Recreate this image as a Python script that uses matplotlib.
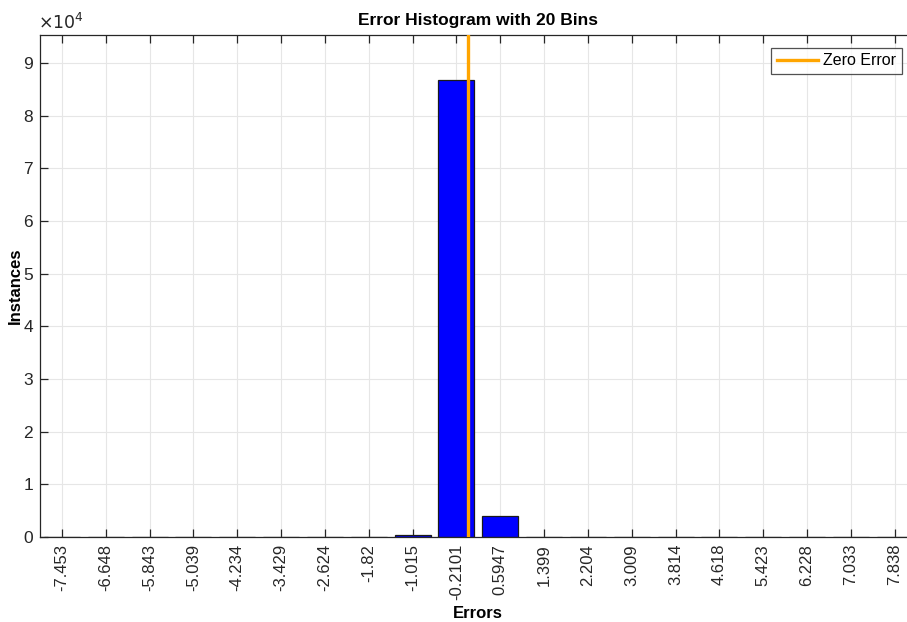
import numpy as np
import matplotlib
matplotlib.use('Agg')
import matplotlib.pyplot as plt
from matplotlib.ticker import FuncFormatter

plt.rcParams['font.family'] = ['Liberation Sans', 'DejaVu Sans']

# bin centres as printed on the x axis
bin_labels = ['-7.453', '-6.648', '-5.843', '-5.039', '-4.234', '-3.429', '-2.624',
              '-1.82', '-1.015', '-0.2101', '0.5947', '1.399', '2.204', '3.009',
              '3.814', '4.618', '5.423', '6.228', '7.033', '7.838']
bin_centers = [float(s) for s in bin_labels]
# instances per bin
counts = [0, 0, 0, 0, 0, 0, 0, 0, 440, 86700, 4040, 0, 0, 0, 0, 0, 0, 0, 0, 0]
zero_error = 0.0

bin_w = (bin_centers[-1] - bin_centers[0]) / (len(bin_centers) - 1)

fig = plt.figure(figsize=(9.07, 6.22), dpi=100)
ax = fig.add_axes([0.0441, 0.1367, 0.9665, 0.807])

ax.bar(bin_centers, counts, width=bin_w * 0.82, color='#0000ff',
       edgecolor='#1a1a1a', linewidth=0.9, zorder=2)
ax.axvline(zero_error, color='#ffa500', linewidth=2.4, label='Zero Error', zorder=3)

ax.set_xlim(bin_centers[0] - bin_w / 2, bin_centers[-1] + bin_w / 2)
ax.set_ylim(0, 95300)
ax.set_xticks(bin_centers)
ax.set_xticklabels(bin_labels, rotation=90)
ax.set_yticks(np.arange(0, 95000, 10000))
ax.yaxis.set_major_formatter(FuncFormatter(lambda v, p: '%d' % round(v / 1e4)))
ax.tick_params(axis='both', direction='in', length=6, width=0.9, colors='#262626',
               labelsize=12, top=True, right=True, pad=5)
ax.tick_params(axis='y', labelsize=12.5)
ax.grid(True, color='#e6e6e6', linewidth=0.8, zorder=0)
ax.set_axisbelow(True)
for s in ax.spines.values():
    s.set_color('#262626')
    s.set_linewidth(0.9)

ax.text(-0.002, 1.006, r'$\times10^4$', transform=ax.transAxes, fontsize=12.5,
        color='#262626', ha='left', va='bottom')

ax.set_title('Error Histogram with 20 Bins', fontsize=12.5, fontweight='bold', pad=7)
ax.set_xlabel('Errors', fontsize=12, fontweight='bold', labelpad=4)
ax.set_ylabel('Instances', fontsize=12, fontweight='bold')
ax.yaxis.set_label_coords(-0.02, 0.5)

leg = ax.legend(loc='upper right', bbox_to_anchor=(0.983, 0.975), fontsize=11.5,
                frameon=True, fancybox=False, borderaxespad=0, handlelength=2.6,
                borderpad=0.35, handletextpad=0.3)
leg.get_frame().set_edgecolor('#262626')
leg.get_frame().set_linewidth(0.9)

fig.savefig('out.png', dpi=100, facecolor='white')
